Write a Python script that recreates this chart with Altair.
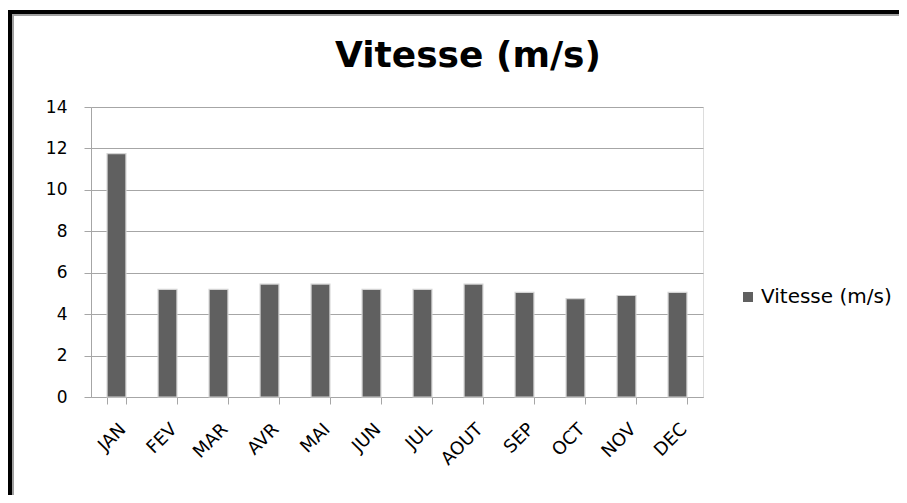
import altair as alt
import pandas as pd

mois = ["JAN", "FEV", "MAR", "AVR", "MAI", "JUN", "JUL", "AOUT", "SEP", "OCT", "NOV", "DEC"]
vitesse = [11.75, 5.2, 5.2, 5.45, 5.45, 5.2, 5.2, 5.45, 5.05, 4.75, 4.9, 5.05]
serie = "Vitesse (m/s)"
titre = "Vitesse (m/s)"
y_ticks = [0, 2, 4, 6, 8, 10, 12, 14]

df = pd.DataFrame({"mois": mois, "vitesse": vitesse, "serie": [serie] * len(mois)})

FONT = "DejaVu Sans"
GRID = "#a6a6a6"

bars = alt.Chart(df).mark_bar(stroke="#d4d4d4", strokeWidth=1.2).encode(
    x=alt.X(
        "mois:N",
        sort=mois,
        scale=alt.Scale(paddingInner=0.63, paddingOuter=0.315),
        axis=alt.Axis(
            title=None,
            labelAngle=-45,
            labelFont=FONT,
            labelFontSize=18,
            labelColor="black",
            labelPadding=16,
            tickBand="extent",
            tickSize=7,
            tickColor=GRID,
            domainColor=GRID,
            grid=False,
        ),
    ),
    y=alt.Y(
        "vitesse:Q",
        scale=alt.Scale(domain=[0, 14], nice=False),
        axis=alt.Axis(
            title=None,
            values=y_ticks,
            labelFont=FONT,
            labelFontSize=17,
            labelColor="black",
            labelPadding=17,
            tickSize=7,
            tickColor=GRID,
            domainColor=GRID,
            gridColor=GRID,
        ),
    ),
    color=alt.Color(
        "serie:N",
        scale=alt.Scale(range=["#606060"]),
        legend=alt.Legend(
            title=None,
            orient="none",
            legendX=647,
            legendY=180,
            symbolType="square",
            symbolSize=100,
            symbolStrokeWidth=0,
            labelFont=FONT,
            labelFontSize=20,
            labelColor="black",
            labelOffset=3,
            padding=0,
        ),
    ),
)

one = alt.Data(values=[{"t": titre}])
outer = alt.Chart(one).mark_rect(fill=None, stroke="black", strokeWidth=4).encode(
    x=alt.value(-81), x2=alt.value(850), y=alt.value(-95), y2=alt.value(420)
)
inner = alt.Chart(one).mark_rect(fill=None, stroke="#a0a0a0", strokeWidth=2).encode(
    x=alt.value(-78), x2=alt.value(850), y=alt.value(-92), y2=alt.value(420)
)
title = alt.Chart(one).mark_text(
    font=FONT, fontSize=36, fontWeight="bold", color="black",
    align="center", baseline="alphabetic",
).encode(text="t:N", x=alt.value(377), y=alt.value(-40))

chart = (
    alt.layer(outer, inner, bars, title)
    .properties(
        width=612,
        height=290,
        autosize=alt.AutoSizeParams(type="none"),
        padding={"left": 83, "top": 99, "right": 196, "bottom": 98},
    )
    .configure_view(stroke=None)
    .configure(background="white")
)

chart.save("out.html", embed_options={"renderer": "svg", "actions": False})
